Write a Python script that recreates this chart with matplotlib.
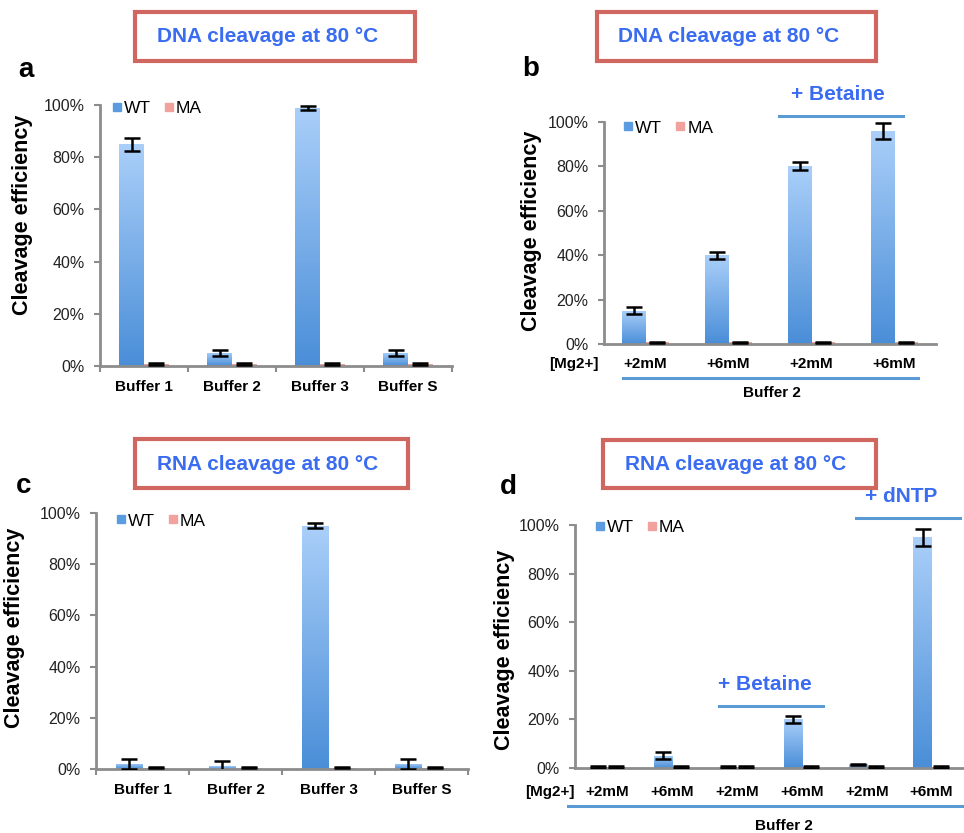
import numpy as np
import matplotlib
matplotlib.use("Agg")
import matplotlib.pyplot as plt
from matplotlib.patches import Rectangle
from matplotlib.lines import Line2D
from matplotlib.ticker import PercentFormatter, FixedLocator
from matplotlib.colors import LinearSegmentedColormap

plt.rcParams['font.family'] = ['Liberation Sans', 'DejaVu Sans']

# ---------------- data ----------------
buffers = ["Buffer 1", "Buffer 2", "Buffer 3", "Buffer S"]
mg_b = ["+2mM", "+6mM", "+2mM", "+6mM"]
mg_d = ["+2mM", "+6mM", "+2mM", "+6mM", "+2mM", "+6mM"]

a_wt = [85, 5, 99, 5]
a_wt_err = [2.5, 1.2, 0.8, 1.2]
a_ma = [0.8, 0.8, 0.8, 0.8]
a_ma_err = [0.3, 0.3, 0.3, 0.3]

b_wt = [15, 40, 80, 96]
b_wt_err = [1.5, 1.5, 1.8, 3.5]
b_ma = [0.8, 0.8, 0.8, 0.8]
b_ma_err = [0.3, 0.3, 0.3, 0.3]

c_wt = [2, 1, 95, 2]
c_wt_err = [2, 2, 1, 2]
c_ma = [0.5, 0.5, 0.5, 0.5]
c_ma_err = [0.3, 0.3, 0.3, 0.3]

d_wt = [0.5, 5, 0.5, 20, 1.5, 95]
d_wt_err = [0.3, 1.5, 0.3, 1.5, 0.3, 3.5]
d_ma = [0.5, 0.5, 0.5, 0.5, 0.5, 0.5]
d_ma_err = [0.3, 0.3, 0.3, 0.3, 0.3, 0.3]

# ---------------- style ----------------
W, H = 964, 833
BLUE_TXT = '#3A6CF2'
BOX_EDGE = '#CF6660'
LINE_BLUE = '#5B9BD5'
GRAY = '#8C8C8C'
MA_COLOR = '#F2A29C'
cmap = LinearSegmentedColormap.from_list('wt', ['#4A8ED8', '#AACFF9'])

fig = plt.figure(figsize=(W / 100, H / 100), dpi=100)


def fx(px):
    return px / W


def fy(py):
    return 1 - py / H


def axes_px(l, t, r, b):
    return fig.add_axes([fx(l), fy(b), fx(r) - fx(l), fy(t) - fy(b)])


def grad_bars(ax, bars):
    grad = np.linspace(0, 1, 256).reshape(-1, 1)
    for bar in bars:
        x, y = bar.get_x(), bar.get_y()
        w, h = bar.get_width(), bar.get_height()
        if h <= 0:
            continue
        im = ax.imshow(grad, extent=[x, x + w, y, y + h], aspect='auto',
                       cmap=cmap, origin='lower', zorder=2, interpolation='bicubic')
        im.set_clip_path(bar)


def draw_panel(ax, labels, wt, wt_err, ma, ma_err, boundary_ticks, xpad,
               ylabel_xy, legend_xy):
    n = len(labels)
    x = np.arange(n)
    bw = 0.28
    wt_bars = ax.bar(x - bw / 2, wt, bw, facecolor='none', edgecolor='none', zorder=2)
    grad_bars(ax, wt_bars)
    ax.bar(x + bw / 2, ma, bw, color=MA_COLOR, edgecolor='none', zorder=2)
    ax.errorbar(x - bw / 2, wt, yerr=wt_err, fmt='none', ecolor='black',
                elinewidth=1.8, capsize=5.5, capthick=1.8, zorder=4)
    ax.errorbar(x + bw / 2, ma, yerr=ma_err, fmt='none', ecolor='black',
                elinewidth=1.8, capsize=5.5, capthick=1.8, zorder=4)
    ax.set_xlim(-0.5, n - 0.5)
    ax.set_ylim(0, 100)
    ax.set_yticks([0, 20, 40, 60, 80, 100])
    ax.yaxis.set_major_formatter(PercentFormatter(decimals=0))
    ax.set_xticks(x)
    ax.set_xticklabels(labels, fontsize=11, fontweight='bold')
    ax.tick_params(axis='x', length=0, pad=xpad)
    if boundary_ticks:
        ax.xaxis.set_minor_locator(FixedLocator(np.arange(n + 1) - 0.5))
        ax.tick_params(axis='x', which='minor', length=4, width=1.5, color=GRAY)
    ax.tick_params(axis='y', length=4, width=1.5, color=GRAY, labelsize=11.5,
                   pad=7, labelcolor='#222222')
    for s in ['top', 'right']:
        ax.spines[s].set_visible(False)
    for s in ['left', 'bottom']:
        ax.spines[s].set_color(GRAY)
        ax.spines[s].set_linewidth(2)
    ax.set_ylabel('Cleavage efficiency', fontsize=15.5, fontweight='bold')
    ax.yaxis.set_label_coords(*ylabel_xy)
    handles = [Line2D([], [], marker='s', linestyle='none', markersize=5.5,
                      color='#5B9BE0', label='WT'),
               Line2D([], [], marker='s', linestyle='none', markersize=5.5,
                      color=MA_COLOR, label='MA')]
    ax.legend(handles=handles, loc='center left', bbox_to_anchor=legend_xy,
              ncol=2, frameon=False, fontsize=12.5, handlelength=0.5,
              handletextpad=0.15, columnspacing=0.8, borderpad=0, borderaxespad=0)


def title_box(l, t, r, b, text, tx, ty):
    fig.patches.append(Rectangle((fx(l), fy(b)), fx(r) - fx(l), fy(t) - fy(b),
                                 transform=fig.transFigure, facecolor='white',
                                 edgecolor=BOX_EDGE, linewidth=3, zorder=1))
    fig.text(fx(tx), fy(ty), text, color=BLUE_TXT, fontsize=15, fontweight='bold',
             ha='left', va='center')


def hline(x0, x1, y, lw=2.2):
    fig.add_artist(Line2D([fx(x0), fx(x1)], [fy(y), fy(y)], transform=fig.transFigure,
                          color=LINE_BLUE, linewidth=lw))


def ftext(x, y, s, **kw):
    fig.text(fx(x), fy(y), s, ha='center', va='center', **kw)


# ---------------- panels ----------------
ax_a = axes_px(100, 105, 452, 366)
draw_panel(ax_a, buffers, a_wt, a_wt_err, a_ma, a_ma_err, True, 10,
           (-0.19, 0.58), (0.035, 0.985))

ax_b = axes_px(604, 122, 936, 344)
draw_panel(ax_b, mg_b, b_wt, b_wt_err, b_ma, b_ma_err, False, 9,
           (-0.187, 0.51), (0.06, 0.973))

ax_c = axes_px(96, 513, 468, 769)
draw_panel(ax_c, buffers, c_wt, c_wt_err, c_ma, c_ma_err, True, 10,
           (-0.191, 0.553), (0.055, 0.969))

ax_d = axes_px(575, 525, 964, 768)
draw_panel(ax_d, mg_d, d_wt, d_wt_err, d_ma, d_ma_err, False, 12,
           (-0.154, 0.486), (0.052, 0.99))

# ---------------- titles & letters ----------------
title_box(135, 12, 415, 61, 'DNA cleavage at 80 °C', 157, 37)
title_box(597, 12, 876, 61, 'DNA cleavage at 80 °C', 618, 37)
title_box(135, 439, 408, 488, 'RNA cleavage at 80 °C', 157, 465)
title_box(603, 440, 876, 488, 'RNA cleavage at 80 °C', 625, 465)

ftext(26, 70, 'a', fontsize=20, fontweight='bold')
ftext(531, 69, 'b', fontsize=20, fontweight='bold')
ftext(24, 486, 'c', fontsize=20, fontweight='bold')
ftext(508, 487, 'd', fontsize=20, fontweight='bold')

# ---------------- panel b annotations ----------------
hline(779, 903, 116)
ftext(838, 94, '+ Betaine', fontsize=15, fontweight='bold', color=BLUE_TXT)
ftext(574, 364, '[Mg2+]', fontsize=11, fontweight='bold')
hline(623, 918, 378)
ftext(772, 393, 'Buffer 2', fontsize=11, fontweight='bold')

# ---------------- panel d annotations ----------------
hline(719, 823, 706)
ftext(765, 684, '+ Betaine', fontsize=15, fontweight='bold', color=BLUE_TXT)
hline(856, 960, 518)
ftext(901, 497, '+ dNTP', fontsize=15, fontweight='bold', color=BLUE_TXT)
ftext(550, 792, '[Mg2+]', fontsize=11, fontweight='bold')
hline(568, 964, 806)
ftext(784, 826, 'Buffer 2', fontsize=11, fontweight='bold')

fig.savefig('out.png', dpi=100)
